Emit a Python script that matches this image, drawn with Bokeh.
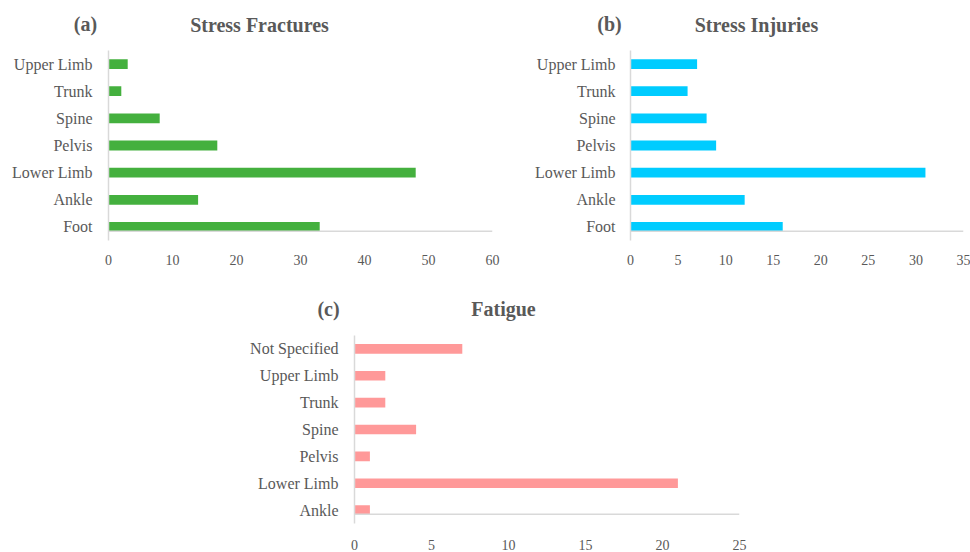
from bokeh.plotting import figure
from bokeh.models import Range1d, FixedTicker, Span, Label, Spacer
from bokeh.layouts import column, row
from bokeh.embed import file_html
from bokeh.resources import INLINE

# Data (bottom to top)
cats_ab = ["Foot", "Ankle", "Lower Limb", "Pelvis", "Spine", "Trunk", "Upper Limb"]
fractures = [33, 14, 48, 17, 8, 2, 3]
injuries = [16, 12, 31, 9, 8, 6, 7]
cats_c = ["Ankle", "Lower Limb", "Pelvis", "Spine", "Trunk", "Upper Limb", "Not Specified"]
fatigue = [1, 21, 1, 4, 2, 2, 7]

ticks_a = [0, 10, 20, 30, 40, 50, 60]
ticks_b = [0, 5, 10, 15, 20, 25, 30, 35]
ticks_c = [0, 5, 10, 15, 20, 25]

titles_top = [("(a)", 85, 23), ("Stress Fractures", 259, 24),
              ("(b)", 609, 23), ("Stress Injuries", 756, 24)]
titles_bottom = [("(c)", 328, 28), ("Fatigue", 503, 28)]

FONT = "Liberation Serif"
TXT = "#595959"
AX = "#D9D9D9"


def header(width, height, items):
    h = figure(width=width, height=height, output_backend="svg", toolbar_location=None,
               x_range=Range1d(0, width), y_range=Range1d(height, 0),
               x_axis_type=None, y_axis_type=None,
               min_border=0, min_border_left=0, min_border_right=0,
               min_border_top=0, min_border_bottom=0)
    h.outline_line_color = None
    h.xgrid.visible = False
    h.ygrid.visible = False
    for txt, x, y in items:
        h.add_layout(Label(x=x, y=y, text=txt, text_font=FONT, text_font_size="20px",
                           text_font_style="bold", text_color=TXT,
                           text_align="center", text_baseline="middle"))
    return h


def panel(cats, vals, ticks, color, width, height, bl, bt, br, bb, standoff_y, standoff_x):
    p = figure(width=width, height=height, output_backend="svg", toolbar_location=None,
               x_range=Range1d(ticks[0], ticks[-1]),
               y_range=Range1d(-0.5, len(cats) - 0.5),
               min_border_left=bl, min_border_top=bt, min_border_right=br,
               min_border_bottom=bb)
    p.outline_line_color = None
    p.xgrid.visible = False
    p.ygrid.visible = False
    ys = list(range(len(cats)))
    p.hbar(y=ys, right=vals, left=0, height=0.36, fill_color=color, line_color=None)
    p.add_layout(Span(location=-0.16, dimension="width", line_color=AX, line_width=1.5))

    ya = p.yaxis[0]
    ya.ticker = FixedTicker(ticks=ys)
    ya.major_label_overrides = {i: c for i, c in enumerate(cats)}
    ya.axis_line_color = AX
    ya.axis_line_width = 1.5
    ya.major_tick_line_color = None
    ya.minor_tick_line_color = None
    ya.major_label_standoff = standoff_y
    ya.major_label_text_font = FONT
    ya.major_label_text_font_size = "16px"
    ya.major_label_text_color = TXT

    xa = p.xaxis[0]
    xa.ticker = FixedTicker(ticks=ticks)
    xa.axis_line_color = None
    xa.major_tick_line_color = None
    xa.minor_tick_line_color = None
    xa.major_label_standoff = standoff_x
    xa.major_label_text_font = FONT
    xa.major_label_text_font_size = "14px"
    xa.major_label_text_color = TXT
    return p


h1 = header(970, 42, titles_top)
pa = panel(cats_ab, fractures, ticks_a, "#44B03E", 500, 238, 108, 8, 8, 40, 10, 8)
pb = panel(cats_ab, injuries, ticks_b, "#00CCFF", 470, 238, 130, 8, 7, 40, 9, 8)
h2 = header(970, 50, titles_bottom)
pc = panel(cats_c, fatigue, ticks_c, "#FF9999", 520, 222, 114, 5, 21, 27, 10, 10)

layout = column(h1, row(pa, pb), h2, row(Spacer(width=240, height=222), pc))
open("out.html", "w").write(file_html(layout, INLINE))
